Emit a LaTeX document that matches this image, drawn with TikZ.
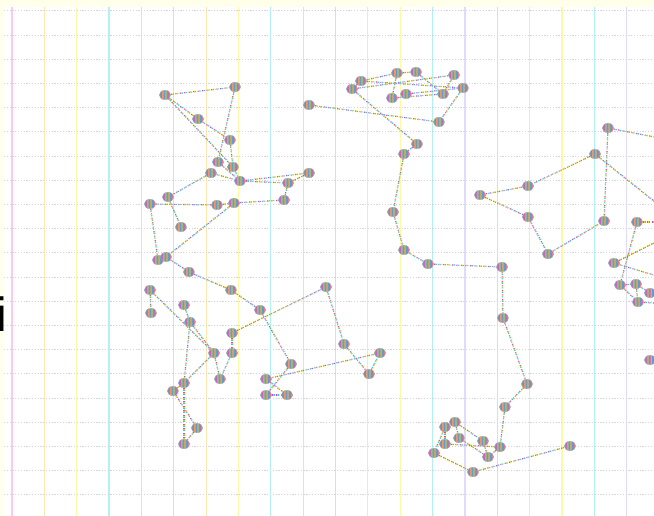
\documentclass[tikz,border=0pt]{standalone}
\usepackage{fontspec}
\newfontfamily\lsans{Liberation Sans}
\usetikzlibrary{shapes.geometric}
\definecolor{sa}{HTML}{E850C8}
\definecolor{sb}{HTML}{F0C030}
\definecolor{sc}{HTML}{40A8F0}
\definecolor{sd}{HTML}{909098}
\definecolor{ema}{HTML}{E040D0}
\definecolor{emb}{HTML}{F0D000}
\definecolor{emc}{HTML}{20D0F0}
\definecolor{bgy}{HTML}{FFFFEA}
\definecolor{g1}{HTML}{FFC8EC}
\definecolor{g2}{HTML}{FFE6B0}
\definecolor{g3}{HTML}{FFF8A8}
\definecolor{g4}{HTML}{B0F2F4}
\definecolor{g5}{HTML}{E2DAFA}
\definecolor{hl}{HTML}{D4D4DC}
\pgfdeclarehorizontalshading{stripes}{100bp}{color(0bp)=(sa); color(4bp)=(sa); color(4.1bp)=(sb); color(8bp)=(sb); color(8.1bp)=(sc); color(12bp)=(sc); color(12.1bp)=(sd); color(16bp)=(sd); color(16.1bp)=(sa); color(20bp)=(sa); color(20.1bp)=(sb); color(24bp)=(sb); color(24.1bp)=(sc); color(28bp)=(sc); color(28.1bp)=(sd); color(32bp)=(sd); color(32.1bp)=(sa); color(36bp)=(sa); color(36.1bp)=(sb); color(40bp)=(sb); color(40.1bp)=(sc); color(44bp)=(sc); color(44.1bp)=(sd); color(48bp)=(sd); color(48.1bp)=(sa); color(52bp)=(sa); color(52.1bp)=(sb); color(56bp)=(sb); color(56.1bp)=(sc); color(60bp)=(sc); color(60.1bp)=(sd); color(64bp)=(sd); color(64.1bp)=(sa); color(68bp)=(sa); color(68.1bp)=(sb); color(72bp)=(sb); color(72.1bp)=(sc); color(76bp)=(sc); color(76.1bp)=(sd); color(80bp)=(sd); color(80.1bp)=(sa); color(84bp)=(sa); color(84.1bp)=(sb); color(88bp)=(sb); color(88.1bp)=(sc); color(92bp)=(sc); color(92.1bp)=(sd); color(96bp)=(sd); color(96.1bp)=(sa); color(100bp)=(sa)}
\pgfdeclarelayer{bg}
\pgfsetlayers{bg,main}
\tikzset{
  nd/.style={ellipse, minimum width=11.5pt, minimum height=9.5pt, inner sep=0pt, draw=black!35, line width=0.35pt, shading=stripes, shade},
  ea/.style={draw=ema, line width=1.2pt, dash pattern=on 1pt off 3.5pt, dash phase=0pt},
  eb/.style={draw=emb, line width=1.2pt, dash pattern=on 1pt off 3.5pt, dash phase=3.5pt},
  ec/.style={draw=emc, line width=1.2pt, dash pattern=on 1pt off 3.5pt, dash phase=2.5pt},
  vline/.style={line width=1.2pt},
  hline/.style={draw=hl, line width=0.7pt, dash pattern=on 1.2pt off 1.6pt}
}
\newcommand\lnk[2]{\draw[ea] (#1) -- (#2); \draw[eb] (#1) -- (#2); \draw[ec] (#1) -- (#2);}
\begin{document}
\begin{tikzpicture}[x=1pt,y=-1pt]
\useasboundingbox (0,0) rectangle (654,516);
\begin{pgfonlayer}{bg}
\fill[bgy] (0,0) rectangle (654,516);
\fill[white] (4,7) rectangle (654,516);
\foreach \k [evaluate=\k as \xx using 12+32.35*\k] in {0,...,19}{
  \pgfmathtruncatemacro\cc{mod(\k,5)+1}
  \draw[vline, draw=g\cc] (\xx,7) -- (\xx,516);
}
\foreach \k [evaluate=\k as \yy using 10.7+24.2*\k] in {0,...,20}{
  \draw[hline] (4,\yy) -- (654,\yy);
}
\end{pgfonlayer}
\node[anchor=base west, inner sep=0pt, font=\fontsize{48}{48}\selectfont\lsans] (ltr) at (-3.3,331) {i};
% left group
\node[nd] (n1) at (165,95) {};
\node[nd] (n2) at (235,87) {};
\node[nd] (n3) at (198,119) {};
\node[nd] (n4) at (230,140) {};
\node[nd] (n5) at (218,162) {};
\node[nd] (n6) at (233,167) {};
\node[nd] (n7) at (211,173) {};
\node[nd] (n8) at (240,181) {};
\node[nd] (n9) at (309,173) {};
\node[nd] (n10) at (288,183) {};
\node[nd] (n11) at (168,197) {};
\node[nd] (n12) at (150,204) {};
\node[nd] (n13) at (217,205) {};
\node[nd] (n14) at (234,203) {};
\node[nd] (n15) at (284,200) {};
\node[nd] (n16) at (181,227) {};
\node[nd] (n17) at (309,105) {};
\node[nd] (n18) at (158,260) {};
\node[nd] (n19) at (166,257) {};
\node[nd] (n20) at (189,272) {};
\node[nd] (n21) at (150,290) {};
\node[nd] (n22) at (151,313) {};
\node[nd] (n23) at (184,305) {};
\node[nd] (n24) at (190,322) {};
\node[nd] (n25) at (231,290) {};
\node[nd] (n26) at (260,310) {};
\node[nd] (n27) at (232,333) {};
\node[nd] (n28) at (214,353) {};
\node[nd] (n29) at (232,353) {};
\node[nd] (n30) at (220,379) {};
\node[nd] (n31) at (184,383) {};
\node[nd] (n32) at (173,391) {};
\node[nd] (n33) at (197,428) {};
\node[nd] (n34) at (184,444) {};
\node[nd] (n35) at (291,364) {};
\node[nd] (n36) at (266,379) {};
\node[nd] (n37) at (266,395) {};
\node[nd] (n38) at (287,395) {};
\node[nd] (n39) at (326,287) {};
\node[nd] (n40) at (344,344) {};
\node[nd] (n41) at (380,353) {};
\node[nd] (n42) at (369,374) {};
% top cluster
\node[nd] (c1) at (361,81) {};
\node[nd] (c2) at (352,89) {};
\node[nd] (c3) at (397,73) {};
\node[nd] (c4) at (416,72) {};
\node[nd] (c5) at (392,98) {};
\node[nd] (c6) at (406,94) {};
\node[nd] (c7) at (454,75) {};
\node[nd] (c8) at (443,94) {};
\node[nd] (c9) at (463,88) {};
\node[nd] (c10) at (439,122) {};
% middle chain
\node[nd] (m1) at (417,144) {};
\node[nd] (m2) at (404,154) {};
\node[nd] (m3) at (393,212) {};
\node[nd] (m4) at (404,250) {};
\node[nd] (m5) at (428,264) {};
\node[nd] (m6) at (502,267) {};
\node[nd] (m7) at (503,318) {};
\node[nd] (m8) at (527,384) {};
\node[nd] (m9) at (505,407) {};
% bottom cluster
\node[nd] (b1) at (455,422) {};
\node[nd] (b2) at (445,427) {};
\node[nd] (b3) at (459,438) {};
\node[nd] (b4) at (445,444) {};
\node[nd] (b5) at (483,441) {};
\node[nd] (b6) at (500,447) {};
\node[nd] (b7) at (434,453) {};
\node[nd] (b8) at (488,457) {};
\node[nd] (b9) at (473,472) {};
\node[nd] (b10) at (570,446) {};
% right group
\node[nd] (r1) at (608,128) {};
\node[nd] (r2) at (595,154) {};
\node[nd] (r3) at (528,186) {};
\node[nd] (r4) at (480,195) {};
\node[nd] (r5) at (528,217) {};
\node[nd] (r6) at (604,221) {};
\node[nd] (r7) at (548,254) {};
\node[nd] (r8) at (637,222) {};
\node[nd] (r9) at (614,263) {};
\node[nd] (r10) at (620,285) {};
\node[nd] (r11) at (636,284) {};
\node[nd] (r12) at (650,293) {};
\node[nd] (r13) at (638,302) {};
\node[nd] (r14) at (650,360) {};
\coordinate (o1) at (670,140);
\coordinate (o2) at (670,214);
\coordinate (o3) at (670,222);
\coordinate (o4) at (670,235);
\coordinate (o5) at (670,280);
\coordinate (o6) at (670,304);
\coordinate (o7) at (670,362);
\begin{pgfonlayer}{bg}
\lnk{n1}{n2} \lnk{n1}{n3} \lnk{n3}{n4} \lnk{n2}{n5} \lnk{n1}{n6} \lnk{n4}{n6}
\lnk{n6}{n8} \lnk{n5}{n8} \lnk{n7}{n8} \lnk{n8}{n9} \lnk{n8}{n10} \lnk{n9}{n10}
\lnk{n10}{n15} \lnk{n7}{n11} \lnk{n11}{n16} \lnk{n12}{n13} \lnk{n13}{n14}
\lnk{n14}{n15} \lnk{n12}{n18} \lnk{n14}{n19} \lnk{n18}{n19} \lnk{n19}{n20}
\lnk{n20}{n25} \lnk{n25}{n26} \lnk{n26}{n35} \lnk{n27}{n39} \lnk{n27}{n29}
\lnk{n29}{n30} \lnk{n28}{n30} \lnk{n21}{n22} \lnk{n21}{n28} \lnk{n23}{n24}
\lnk{n24}{n28} \lnk{n24}{n31} \lnk{n28}{n31} \lnk{n31}{n32} \lnk{n32}{n33}
\lnk{n31}{n34} \lnk{n33}{n34} \lnk{n39}{n40} \lnk{n40}{n42} \lnk{n42}{n41}
\lnk{n41}{n36} \lnk{n35}{n37} \lnk{n36}{n38} \lnk{n37}{n38}
\lnk{n17}{c10} \lnk{c2}{m1} \lnk{m1}{m2} \lnk{m2}{m3} \lnk{m3}{m4} \lnk{m4}{m5}
\lnk{m5}{m6} \lnk{m6}{m7} \lnk{m7}{m8} \lnk{m8}{m9} \lnk{m9}{b6}
\lnk{c1}{c2} \lnk{c1}{c3} \lnk{c1}{c9} \lnk{c2}{c7} \lnk{c3}{c5} \lnk{c3}{c4}
\lnk{c4}{c8} \lnk{c5}{c8} \lnk{c7}{c8} \lnk{c9}{c10} \lnk{c6}{c9}
\lnk{b1}{b2} \lnk{b1}{b3} \lnk{b2}{b7} \lnk{b2}{b4} \lnk{b1}{b5} \lnk{b3}{b8}
\lnk{b4}{b6} \lnk{b5}{b8} \lnk{b7}{b9} \lnk{b9}{b10} \lnk{b6}{b8}
\lnk{r1}{o1} \lnk{r1}{r6} \lnk{r2}{r3} \lnk{r2}{o2} \lnk{r3}{r4} \lnk{r4}{r5}
\lnk{r5}{r7} \lnk{r7}{r6} \lnk{r8}{o3} \lnk{r8}{r10} \lnk{r9}{o4} \lnk{r9}{o5}
\lnk{r10}{r11} \lnk{r10}{r13} \lnk{r11}{r12} \lnk{r11}{r13} \lnk{r13}{o6}
\lnk{r14}{o7}
\end{pgfonlayer}
\end{tikzpicture}
\end{document}
